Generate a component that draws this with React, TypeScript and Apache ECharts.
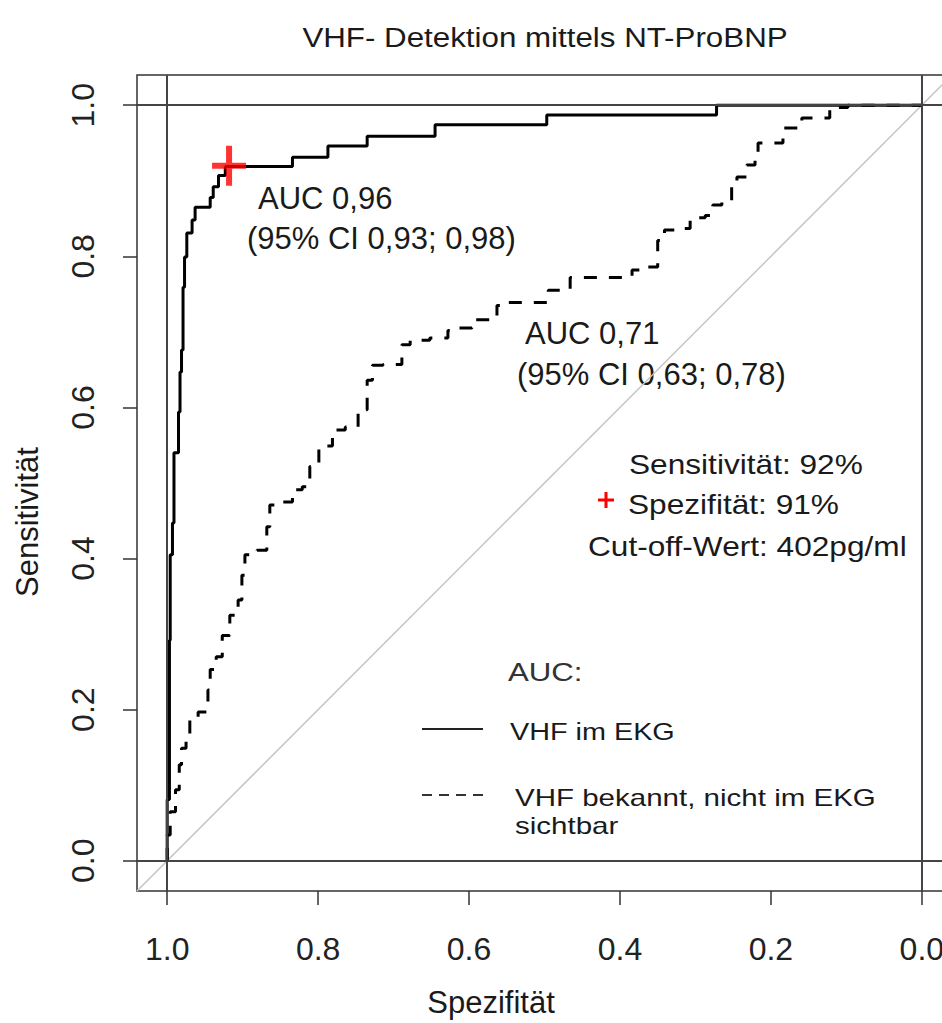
import React, { useEffect, useRef } from "react";
import * as echarts from "echarts";

// ---- data (Spezifität, Sensitivität) step vertices ----
const solidSpec = [1.0, 0.997, 0.996, 0.993, 0.991, 0.985, 0.983, 0.981, 0.979, 0.977, 0.974, 0.967, 0.963, 0.943, 0.939, 0.932, 0.923, 0.834, 0.787, 0.735, 0.645, 0.497, 0.272, 0.0];
const solidSens = [0.0, 0.081, 0.292, 0.405, 0.447, 0.54, 0.594, 0.647, 0.676, 0.759, 0.799, 0.831, 0.848, 0.865, 0.878, 0.892, 0.907, 0.919, 0.931, 0.946, 0.959, 0.974, 0.987, 1.0];

const dashSpec = [1.0, 0.996, 0.989, 0.984, 0.981, 0.975, 0.97, 0.959, 0.946, 0.943, 0.935, 0.927, 0.917, 0.906, 0.901, 0.897, 0.881, 0.868, 0.864, 0.853, 0.834, 0.821, 0.811, 0.799, 0.781, 0.764, 0.747, 0.735, 0.728, 0.714, 0.689, 0.678, 0.652, 0.628, 0.619, 0.596, 0.563, 0.548, 0.495, 0.466, 0.433, 0.384, 0.363, 0.35, 0.341, 0.327, 0.307, 0.287, 0.277, 0.265, 0.252, 0.245, 0.232, 0.221, 0.217, 0.208, 0.184, 0.159, 0.148, 0.122, 0.098, 0.0];
const dashSens = [0.0, 0.034, 0.065, 0.094, 0.127, 0.149, 0.167, 0.187, 0.197, 0.226, 0.253, 0.27, 0.298, 0.325, 0.345, 0.378, 0.405, 0.411, 0.442, 0.471, 0.475, 0.491, 0.495, 0.522, 0.549, 0.57, 0.574, 0.597, 0.636, 0.656, 0.657, 0.683, 0.689, 0.692, 0.702, 0.705, 0.716, 0.735, 0.739, 0.755, 0.772, 0.772, 0.782, 0.786, 0.821, 0.835, 0.837, 0.851, 0.854, 0.868, 0.874, 0.894, 0.905, 0.921, 0.934, 0.95, 0.95, 0.97, 0.983, 0.983, 0.997, 1.0];

const cutoffPoint = [0.918, 0.92];
const diagSpec = [1.04, -0.04];
const diagSens = [-0.04, 1.04];
const tickValues = [0, 0.2, 0.4, 0.6, 0.8, 1.0];
const refLines = [0, 1];

const titleText = "VHF- Detektion mittels NT-ProBNP";
const xName = "Spezifität";
const yName = "Sensitivität";
const auc1 = ["AUC 0,96", "(95% CI 0,93; 0,98)"];
const auc2 = ["AUC 0,71", "(95% CI 0,63; 0,78)"];
const cutTexts = ["Sensitivität: 92%", "Spezifität: 91%", "Cut-off-Wert: 402pg/ml"];
const legendTitle = "AUC:";
const legendItems = ["VHF im EKG", "VHF bekannt, nicht im EKG", "sichtbar"];

const FONT = "'Liberation Sans', Arial, Helvetica, sans-serif";

const zip = (a: number[], b: number[]) => a.map((v, i) => [v, b[i]]);

function txt(text: string, x: number, y: number, fontSize: number, opts: any = {}) {
  return {
    type: "text",
    x,
    y,
    scaleX: opts.scaleX ?? 1,
    rotation: opts.rotation ?? 0,
    silent: true,
    style: {
      text,
      fontSize,
      fontFamily: opts.fontFamily ?? FONT,
      fill: opts.fill ?? "#1a1a1a",
      align: opts.align ?? "left",
      verticalAlign: "middle",
    },
  };
}

export default function App() {
  const ref = useRef<HTMLDivElement>(null);

  useEffect(() => {
    if (!ref.current) return;
    const chart = echarts.init(ref.current, null, { renderer: "svg" });

    const plusPath = "path://M14,0H20V17H34V23H20V40H14V23H0V17H14Z";

    const axisCommon = {
      type: "value",
      min: -0.04,
      max: 1.04,
      axisLine: { show: false, onZero: false },
      splitLine: { show: false },
      axisTick: {
        show: true,
        customValues: tickValues,
        length: 14,
        lineStyle: { color: "#333333", width: 1.5 },
      },
    };

    const option: any = {
      animation: false,
      backgroundColor: "#ffffff",
      grid: {
        left: 137,
        top: 75,
        width: 815,
        height: 816,
        show: true,
        borderColor: "#333333",
        borderWidth: 1.5,
        backgroundColor: "transparent",
        containLabel: false,
        outerBoundsMode: "none",
      },
      xAxis: {
        ...axisCommon,
        inverse: true,
        axisLabel: {
          customValues: tickValues,
          formatter: (v: number) => v.toFixed(1),
          fontSize: 32,
          fontFamily: FONT,
          color: "#222222",
          margin: 42,
        },
      },
      yAxis: {
        ...axisCommon,
        axisLabel: {
          customValues: tickValues,
          formatter: (v: number) => v.toFixed(1),
          fontSize: 32,
          fontFamily: FONT,
          color: "#222222",
          rotate: 90,
          margin: 38,
        },
      },
      series: [
        {
          type: "line",
          data: zip(diagSpec, diagSens),
          symbol: "none",
          lineStyle: { color: "#c4c4c4", width: 1.5 },
          silent: true,
          z: 1,
          markLine: {
            silent: true,
            symbol: "none",
            label: { show: false },
            lineStyle: { color: "#444444", width: 2, type: "solid" },
            data: [
              ...refLines.map((v) => ({ xAxis: v })),
              ...refLines.map((v) => ({ yAxis: v })),
            ],
          },
        },
        {
          type: "line",
          name: legendItems[1],
          data: zip(dashSpec, dashSens),
          step: "start",
          symbol: "none",
          lineStyle: { color: "#000000", width: 3, type: [13, 12] },
          z: 3,
        },
        {
          type: "line",
          name: legendItems[0],
          data: zip(solidSpec, solidSens),
          step: "start",
          symbol: "none",
          lineStyle: { color: "#000000", width: 3 },
          z: 4,
        },
        {
          type: "scatter",
          data: [cutoffPoint],
          symbol: plusPath,
          symbolSize: [34, 40],
          itemStyle: { color: "#ff0000" },
          z: 5,
        },
      ],
      graphic: [
        txt(titleText, 545, 38, 27, { align: "center", scaleX: 1.16 }),
        txt(xName, 491, 1002, 31, { align: "center" }),
        txt(yName, 27, 522, 31, { align: "center", rotation: Math.PI / 2 }),
        txt(auc1[0], 258, 198, 31),
        txt(auc1[1], 247, 238, 31),
        txt(auc2[0], 525, 333, 31),
        txt(auc2[1], 517, 374, 31),
        txt(cutTexts[0], 629, 464, 28, { scaleX: 1.13 }),
        txt(cutTexts[1], 628, 504, 28, { scaleX: 1.13 }),
        txt(cutTexts[2], 588, 546, 28, { scaleX: 1.13 }),
        {
          type: "group",
          x: 606,
          y: 500,
          silent: true,
          children: [
            { type: "rect", shape: { x: -8, y: -1.5, width: 16, height: 3 }, style: { fill: "#ff0000" } },
            { type: "rect", shape: { x: -1.5, y: -8, width: 3, height: 16 }, style: { fill: "#ff0000" } },
          ],
        },
        txt(legendTitle, 508, 672, 26, { scaleX: 1.2, fill: "#333333" }),
        {
          type: "line",
          silent: true,
          shape: { x1: 422, y1: 729, x2: 483, y2: 729 },
          style: { stroke: "#222222", lineWidth: 2 },
        },
        {
          type: "line",
          silent: true,
          shape: { x1: 422, y1: 795, x2: 483, y2: 795 },
          style: { stroke: "#333333", lineWidth: 2, lineDash: [10, 7] },
        },
        txt(legendItems[0], 510, 732, 24, { scaleX: 1.2 }),
        txt(legendItems[1], 515, 798, 24, { scaleX: 1.23 }),
        txt(legendItems[2], 515, 826, 24, { scaleX: 1.23 }),
      ],
    };

    chart.setOption(option);
    return () => chart.dispose();
  }, []);

  return (
    <div
      ref={ref}
      style={{ position: "fixed", left: 0, top: 0, width: 942, height: 1023, background: "#fff" }}
    />
  );
}
